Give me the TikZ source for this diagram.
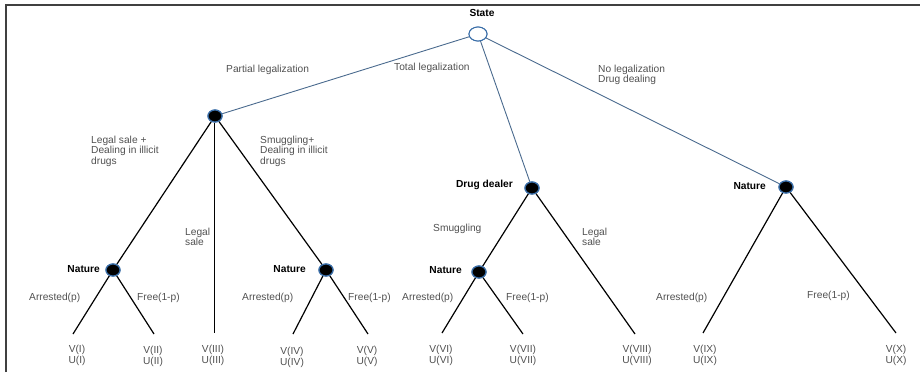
\documentclass[tikz,border=0pt]{standalone}
\usepackage{fontspec}
\setmainfont{Liberation Sans}
\usetikzlibrary{shapes.geometric}
\definecolor{edgeblue}{HTML}{4A6A8E}
\definecolor{nodeblue}{HTML}{3A6EA8}
\definecolor{txt}{HTML}{505050}
\begin{document}
\begin{tikzpicture}[x=1pt,y=-1pt,
  dec/.style={ellipse,fill=black,draw=nodeblue,line width=1.2pt,minimum width=14pt,minimum height=12pt,inner sep=0pt},
  root/.style={ellipse,fill=white,draw=nodeblue,line width=1pt,minimum width=18pt,minimum height=14pt,inner sep=0pt},
  topedge/.style={draw=edgeblue,line width=0.9pt},
  edge/.style={draw=black,line width=1.2pt},
  lbl/.style={font=\fontsize{10.2}{10.6}\selectfont,text=txt,inner sep=0pt,align=left,anchor=west},
  player/.style={font=\fontsize{10.2}{10.6}\selectfont\bfseries,text=black,inner sep=0pt},
  payoff/.style={font=\fontsize{10.2}{10.8}\selectfont,text=txt,inner sep=0pt,align=center}
]
\useasboundingbox (0,0) rectangle (920,372);
\draw[line width=2pt,black!75] (5.5,372) -- (5.5,4.5) -- (920,4.5);

% nodes
\node[root] (S) at (478,34) {};
\node[dec] (P) at (215,116) {};
\node[dec] (D) at (532,188) {};
\node[dec] (N3) at (786,187) {};
\node[dec] (N1) at (113,270) {};
\node[dec] (N2) at (326,270) {};
\node[dec] (N4) at (479,272) {};

% leaves
\coordinate (L1) at (73,334);
\coordinate (L2) at (154,334);
\coordinate (L3) at (214.5,333);
\coordinate (L4) at (293,334);
\coordinate (L5) at (368,334);
\coordinate (L6) at (442,333);
\coordinate (L7) at (523,334);
\coordinate (L8) at (635,334);
\coordinate (L9) at (703,333);
\coordinate (L10) at (896,333);

% edges
\draw[topedge] (S) -- (P);
\draw[topedge] (S) -- (D);
\draw[topedge] (S) -- (N3);
\draw[edge] (P) -- (N1);
\draw[edge] (P.south -| L3) -- (L3);
\draw[edge] (P) -- (N2);
\draw[edge] (N1) -- (L1);
\draw[edge] (N1) -- (L2);
\draw[edge] (N2) -- (L4);
\draw[edge] (N2) -- (L5);
\draw[edge] (D) -- (N4);
\draw[edge] (D) -- (L8);
\draw[edge] (N4) -- (L6);
\draw[edge] (N4) -- (L7);
\draw[edge] (N3) -- (L9);
\draw[edge] (N3) -- (L10);

% redraw nodes on top
\node[root] at (S) {};
\node[dec] at (P) {};
\node[dec] at (D) {};
\node[dec] at (N3) {};
\node[dec] at (N1) {};
\node[dec] at (N2) {};
\node[dec] at (N4) {};

% player labels
\node[player] (tS) at (482,13) {State};
\node[player,anchor=east] (tD) at (513,185) {Drug dealer};
\node[player,anchor=east] (tN3) at (766,186) {Nature};
\node[player,anchor=east] (tN1) at (100,269) {Nature};
\node[player,anchor=east] (tN2) at (306,269) {Nature};
\node[player,anchor=east] (tN4) at (462,270) {Nature};

% action labels
\node[lbl] (a1) at (226,70) {Partial legalization};
\node[lbl] (a2) at (394,68) {Total legalization};
\node[lbl] (a3) at (598,75) {No legalization\\Drug dealing};
\node[lbl] (a4) at (91,151) {Legal sale +\\Dealing in illicit\\drugs};
\node[lbl] (a5) at (260,151) {Smuggling+\\Dealing in illicit\\drugs};
\node[lbl] (a6) at (185,237) {Legal\\sale};
\node[lbl] (a7) at (433,229) {Smuggling};
\node[lbl] (a8) at (582,237) {Legal\\sale};
\node[lbl] (b1) at (29,298) {Arrested(p)};
\node[lbl] (b2) at (137,298) {Free(1-p)};
\node[lbl] (b3) at (242,298) {Arrested(p)};
\node[lbl] (b4) at (348,298) {Free(1-p)};
\node[lbl] (b5) at (402,298) {Arrested(p)};
\node[lbl] (b6) at (506,298) {Free(1-p)};
\node[lbl] (b7) at (656,298) {Arrested(p)};
\node[lbl] (b8) at (807,296) {Free(1-p)};

% payoffs
\node[payoff] (p1) at (77,355.5) {V(I)\\U(I)};
\node[payoff] (p2) at (153,356) {V(II)\\U(II)};
\node[payoff] (p3) at (213,355.5) {V(III)\\U(III)};
\node[payoff] (p4) at (292,357) {V(IV)\\U(IV)};
\node[payoff] (p5) at (367,356) {V(V)\\U(V)};
\node[payoff] (p6) at (441,355.5) {V(VI)\\U(VI)};
\node[payoff] (p7) at (523,355.5) {V(VII)\\U(VII)};
\node[payoff] (p8) at (637,355.5) {V(VIII)\\U(VIII)};
\node[payoff] (p9) at (705,355) {V(IX)\\U(IX)};
\node[payoff] (p10) at (896,355) {V(X)\\U(X)};
\end{tikzpicture}
\end{document}
